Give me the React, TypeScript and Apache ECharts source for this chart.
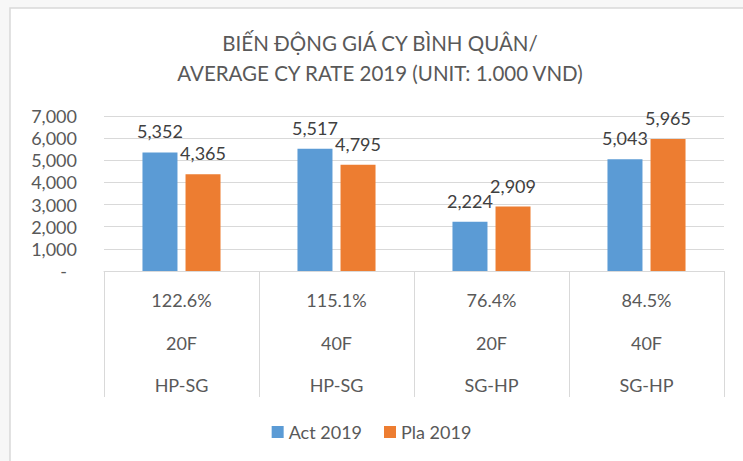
import React, { useEffect, useRef } from "react";
import * as echarts from "echarts";

const categories = ["HP-SG|20F", "HP-SG|40F", "SG-HP|20F", "SG-HP|40F"];
const routes = ["HP-SG", "HP-SG", "SG-HP", "SG-HP"];
const containerTypes = ["20F", "40F", "20F", "40F"];
const ratios = ["122.6%", "115.1%", "76.4%", "84.5%"];
const act2019 = [5352, 5517, 2224, 5043];
const pla2019 = [4365, 4795, 2909, 5965];
const titleLines = ["BIẾN ĐỘNG GIÁ CY BÌNH QUÂN/", "AVERAGE CY RATE 2019 (UNIT: 1.000 VND)"];

const FONT = "Lato, 'Open Sans', sans-serif";

export default function App() {
  const ref = useRef<HTMLDivElement>(null);
  useEffect(() => {
    if (!ref.current) return;
    const chart = echarts.init(ref.current, null, { renderer: "svg" });
    const fmt = (v: number) => v.toLocaleString("en-US");
    chart.setOption({
      animation: false,
      backgroundColor: "#f7f7f7",
      textStyle: { fontFamily: FONT },
      graphic: [
        {
          type: "rect",
          z: -100,
          shape: { x: 10, y: 8, width: 780, height: 480 },
          style: { fill: "#ffffff", stroke: "#d9d9d9", lineWidth: 1.5 },
          silent: true,
        },
        {
          type: "text",
          x: 380,
          y: 58,
          style: {
            text: titleLines.join("\n"),
            fontFamily: FONT,
            fontSize: 20.5,
            lineHeight: 30,
            fill: "#595959",
            textAlign: "center",
            textVerticalAlign: "middle",
          },
        },
      ],
      grid: { left: 104, right: 19, top: 116, bottom: 190, containLabel: false },
      legend: {
        top: 418,
        left: "center",
        itemWidth: 12,
        itemHeight: 12,
        itemGap: 22,
        icon: "rect",
        textStyle: { fontSize: 18, color: "#595959", fontFamily: FONT },
        data: ["Act 2019", "Pla 2019"],
      },
      xAxis: {
        type: "category",
        data: categories,
        axisLine: { show: true, lineStyle: { color: "#d9d9d9", width: 1 } },
        axisTick: { show: true, length: 126, lineStyle: { color: "#d9d9d9", width: 1 } },
        axisLabel: {
          margin: 8,
          fontSize: 18,
          lineHeight: 42.5,
          color: "#595959",
          fontFamily: FONT,
          formatter: (_v: string, i: number) => `${ratios[i]}\n${containerTypes[i]}\n${routes[i]}`,
        },
      },
      yAxis: {
        type: "value",
        min: 0,
        max: 7000,
        interval: 1000,
        axisLine: { show: false },
        axisTick: { show: false },
        splitLine: { lineStyle: { color: "#d9d9d9", width: 1 } },
        axisLabel: {
          margin: 27,
          fontSize: 18,
          color: "#595959",
          fontFamily: FONT,
          formatter: (v: number) => (v === 0 ? "{d|-}" : fmt(v)),
          rich: { d: { fontSize: 18, color: "#595959", padding: [0, 10, 0, 0], fontFamily: FONT } },
        },
      },
      series: [
        {
          name: "Act 2019",
          type: "bar",
          data: act2019,
          barWidth: 35,
          barGap: "23%",
          itemStyle: { color: "#5b9bd5" },
          label: {
            show: true,
            position: "top",
            distance: 12,
            fontSize: 18,
            color: "#404040",
            fontFamily: FONT,
            formatter: (p: any) => fmt(p.value),
          },
        },
        {
          name: "Pla 2019",
          type: "bar",
          data: pla2019,
          barWidth: 35,
          barGap: "23%",
          itemStyle: { color: "#ed7d31" },
          label: {
            show: true,
            position: "top",
            distance: 12,
            fontSize: 18,
            color: "#404040",
            fontFamily: FONT,
            formatter: (p: any) => fmt(p.value),
          },
        },
      ],
    });
    return () => chart.dispose();
  }, []);
  return (
    <div
      ref={ref}
      style={{ position: "fixed", left: 0, top: 0, width: 743, height: 461 }}
    />
  );
}
